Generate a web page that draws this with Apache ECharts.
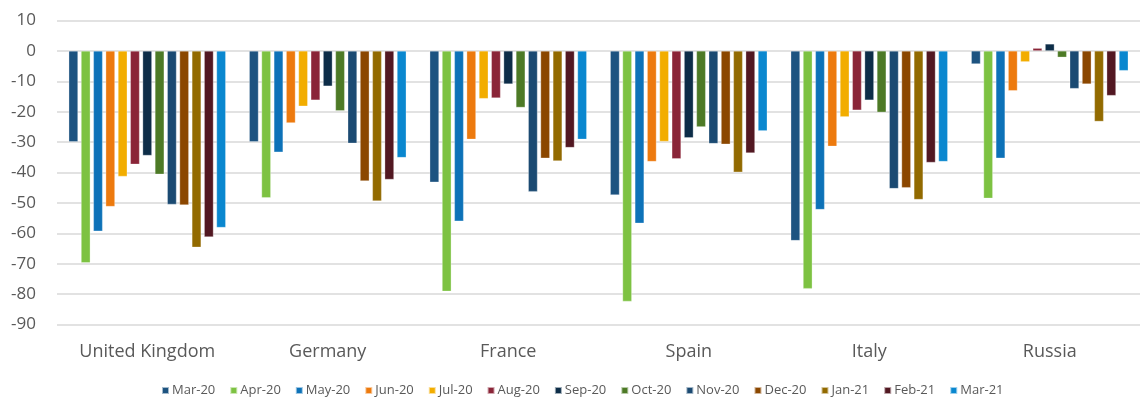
<!DOCTYPE html>
<html>
<head>
<meta charset="utf-8">
<script src="https://cdn.jsdelivr.net/npm/echarts@6/dist/echarts.min.js"></script>
<style>
  html, body { margin: 0; padding: 0; background: #fff; }
  #chart { width: 1141px; height: 398px; }
</style>
</head>
<body>
<div id="chart"></div>
<script>
// countries on the x axis
var countries = ['United Kingdom', 'Germany', 'France', 'Spain', 'Italy', 'Russia'];

// one series per month, values in country order
var months = ['Mar-20', 'Apr-20', 'May-20', 'Jun-20', 'Jul-20', 'Aug-20', 'Sep-20',
  'Oct-20', 'Nov-20', 'Dec-20', 'Jan-21', 'Feb-21', 'Mar-21'];

var mar20 = [-29.9, -29.9, -43.2, -47.4, -62.4, -4.3];
var apr20 = [-69.7, -48.3, -79.1, -82.4, -78.2, -48.5];
var may20 = [-59.3, -33.3, -56.0, -56.7, -52.2, -35.3];
var jun20 = [-51.2, -23.7, -29.1, -36.4, -31.4, -13.1];
var jul20 = [-41.3, -18.2, -15.7, -29.8, -21.7, -3.6];
var aug20 = [-37.3, -16.2, -15.5, -35.5, -19.5, 0.9];
var sep20 = [-34.4, -11.6, -10.9, -28.6, -16.2, 2.3];
var oct20 = [-40.6, -19.7, -18.6, -25.0, -20.2, -2.1];
var nov20 = [-50.5, -30.4, -46.3, -30.5, -45.3, -12.4];
var dec20 = [-50.7, -42.8, -35.3, -30.7, -45.0, -10.9];
var jan21 = [-64.6, -49.4, -36.2, -39.9, -48.9, -23.2];
var feb21 = [-61.2, -42.3, -31.8, -33.6, -36.7, -14.7];
var mar21 = [-58.1, -35.1, -29.1, -26.3, -36.4, -6.5];

var monthValues = [mar20, apr20, may20, jun20, jul20, aug20, sep20,
  oct20, nov20, dec20, jan21, feb21, mar21];

var colors = ['#1D5380', '#7DC242', '#0D72B8', '#ED7A0E', '#F2AD00', '#8A2538', '#0D2D48',
  '#4D7A26', '#1B4A72', '#8B4700', '#926A00', '#521822', '#0A87CF'];

var chart = echarts.init(document.getElementById('chart'), null, { renderer: 'canvas' });

var series = [];
months.forEach(function (m, i) {
  series.push({
    name: m,
    type: 'bar',
    data: monthValues[i],
    barGap: '33%',
    barCategoryGap: '13%',
    itemStyle: {
      color: colors[i],
      borderColor: 'rgba(255,255,255,0.6)',
      borderWidth: 0.5
    }
  });
});

var option = {
  animation: false,
  color: colors,
  grid: { left: 57, right: 1, top: 20.5, bottom: 73.5, containLabel: false },
  legend: {
    top: 379,
    left: 156,
    icon: 'rect',
    itemWidth: 7,
    itemHeight: 7,
    itemGap: 14,
    textStyle: { color: '#595959', fontSize: 13, fontFamily: 'Open Sans', padding: [0, 0, 0, -2] },
    data: months
  },
  xAxis: {
    type: 'category',
    data: countries,
    position: 'bottom',
    axisLine: { show: false, onZero: false },
    axisTick: { show: false },
    axisLabel: { color: '#595959', fontSize: 18, fontFamily: 'Open Sans', margin: 18 }
  },
  yAxis: {
    type: 'value',
    min: -90,
    max: 10,
    interval: 10,
    axisLine: { show: false },
    axisTick: { show: false },
    axisLabel: { color: '#595959', fontSize: 17, fontFamily: 'Open Sans', margin: 21 },
    splitLine: { lineStyle: { color: '#D9D9D9', width: 1.5 } }
  },
  series: series
};

chart.setOption(option);
</script>
</body>
</html>
